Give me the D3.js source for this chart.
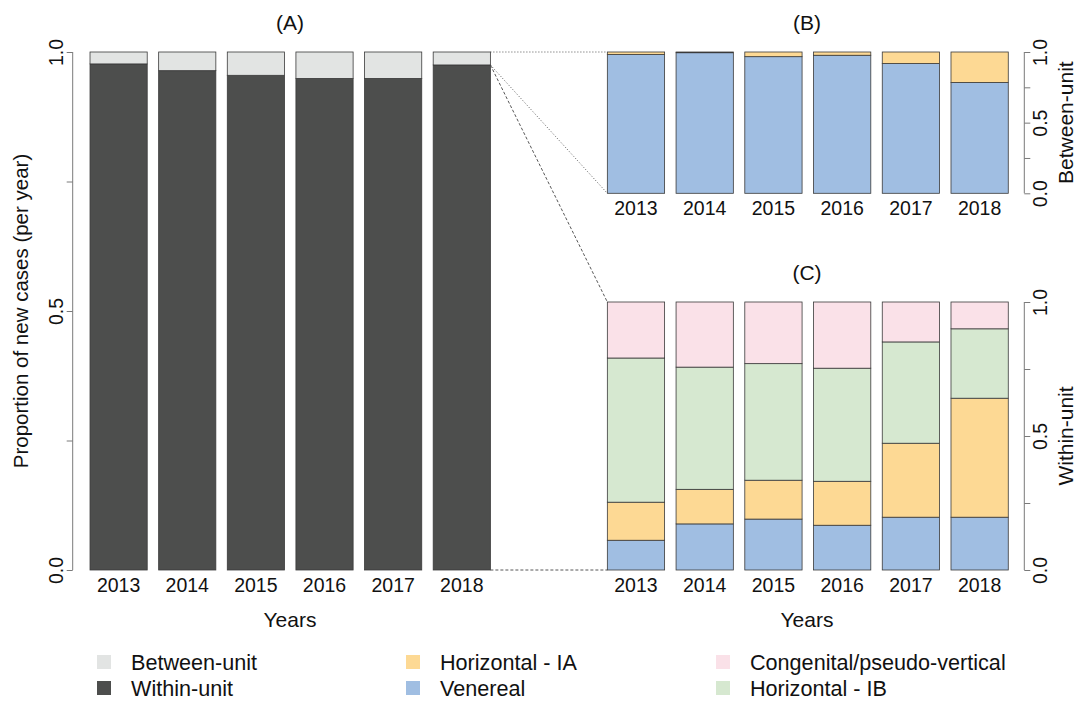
<!DOCTYPE html>
<html>
<head>
<meta charset="utf-8">
<script src="https://cdn.jsdelivr.net/npm/d3@7"></script>
<style>
  html, body { margin: 0; padding: 0; background: #fff; }
  svg { display: block; font-family: "Liberation Sans", Arial, sans-serif; }
</style>
</head>
<body>
<svg id="chart" width="1079" height="702"></svg>
<script>
// ---------------- DATA ----------------
const years = ["2013", "2014", "2015", "2016", "2017", "2018"];

// Panel A: proportion of new cases per year
const withinUnit  = [0.977, 0.964, 0.955, 0.949, 0.949, 0.975];
const betweenUnit = [0.023, 0.036, 0.045, 0.051, 0.051, 0.025];

// Panel B: composition of between-unit cases
const betweenVenereal     = [0.982, 0.995, 0.967, 0.977, 0.918, 0.784];
const betweenHorizontalIA = [0.018, 0.005, 0.033, 0.023, 0.082, 0.216];

// Panel C: composition of within-unit cases
const withinVenereal     = [0.111, 0.172, 0.190, 0.167, 0.197, 0.197];
const withinHorizontalIA = [0.142, 0.129, 0.145, 0.164, 0.276, 0.444];
const withinHorizontalIB = [0.538, 0.456, 0.435, 0.422, 0.378, 0.259];
const withinCongenital   = [0.209, 0.243, 0.230, 0.247, 0.149, 0.100];

const yTicks = [0, 0.25, 0.5, 0.75, 1];
const yTickLabels = { 0: "0.0", 0.5: "0.5", 1: "1.0" };

const colors = {
  "Between-unit": "#e2e4e3",
  "Within-unit": "#4d4e4d",
  "Horizontal - IA": "#fdd994",
  "Venereal": "#a0bee2",
  "Congenital/pseudo-vertical": "#fae1e8",
  "Horizontal - IB": "#d6e8d0"
};
const legendColumns = [
  ["Between-unit", "Within-unit"],
  ["Horizontal - IA", "Venereal"],
  ["Congenital/pseudo-vertical", "Horizontal - IB"]
];

// ---------------- LAYOUT ----------------
const svg = d3.select("#chart");
const textColor = "#111";
const axisColor = "#7a7a7a";
const segStroke = "#3a3a3a";

function band(range) {
  return d3.scaleBand().domain(years).range(range)
    .paddingInner(1 / 6).paddingOuter(0.2333);
}
const xA = band([74, 506.4]);
const xB = band([591.3, 1024.3]);
const xC = xB;
const yA = d3.scaleLinear().domain([0, 1]).range([570, 52]);
const yB = d3.scaleLinear().domain([0, 1]).range([193.3, 52]);
const yC = d3.scaleLinear().domain([0, 1]).range([570, 302]);

function stackRows(seriesNames, arrays) {
  return years.map((y, i) => {
    const row = { year: y };
    seriesNames.forEach((s, j) => row[s] = arrays[j][i]);
    return row;
  });
}

function drawStack(g, x, y, keys, arrays) {
  const rows = stackRows(keys, arrays);
  const stacked = d3.stack().keys(keys)(rows);
  stacked.forEach(layer => {
    g.append("g").selectAll("rect").data(layer).join("rect")
      .attr("x", d => x(d.data.year))
      .attr("width", x.bandwidth())
      .attr("y", d => y(d[1]))
      .attr("height", d => Math.max(0, y(d[0]) - y(d[1])))
      .attr("fill", colors[layer.key])
      .attr("stroke", segStroke)
      .attr("stroke-width", 0.8);
  });
}

function yAxis(g, y, side, xPos) {
  const ax = (side === "left" ? d3.axisLeft(y) : d3.axisRight(y))
    .tickValues(yTicks).tickSize(6).tickFormat(d => yTickLabels[d] || "");
  const a = g.append("g").attr("transform", `translate(${xPos},0)`).call(ax);
  a.select(".domain").attr("stroke", axisColor).attr("d", `M0,${y(0)}V${y(1)}`);
  a.selectAll(".tick line").attr("stroke", axisColor);
  a.selectAll(".tick text")
    .attr("fill", textColor)
    .style("font-size", "19.5px")
    .attr("dy", null)
    .attr("x", null)
    .attr("text-anchor", "middle")
    .attr("transform", side === "left" ? "translate(-10,0) rotate(-90)" : "translate(23,0) rotate(-90)")
    .attr("y", 0);
  return a;
}

function xLabels(g, x, y0) {
  g.append("g").selectAll("text").data(years).join("text")
    .attr("x", d => x(d) + x.bandwidth() / 2)
    .attr("y", y0 + 22)
    .attr("text-anchor", "middle")
    .attr("fill", textColor)
    .style("font-size", "19.5px")
    .text(d => d);
}

// ---------------- PANEL A ----------------
const gA = svg.append("g");
drawStack(gA, xA, yA, ["Within-unit", "Between-unit"], [withinUnit, betweenUnit]);
yAxis(gA, yA, "left", 72.7);
xLabels(gA, xA, 570);
gA.append("text").attr("x", 290).attr("y", 30).attr("text-anchor", "middle")
  .attr("fill", textColor).style("font-size", "21px").text("(A)");
gA.append("text").attr("x", 290).attr("y", 627).attr("text-anchor", "middle")
  .attr("fill", textColor).style("font-size", "21px").text("Years");
gA.append("text").attr("transform", `translate(28,${(yA(0) + yA(1)) / 2}) rotate(-90)`)
  .attr("text-anchor", "middle").attr("fill", textColor).style("font-size", "20.5px")
  .text("Proportion of new cases (per year)");

// ---------------- PANEL B ----------------
const gB = svg.append("g");
drawStack(gB, xB, yB, ["Venereal", "Horizontal - IA"], [betweenVenereal, betweenHorizontalIA]);
yAxis(gB, yB, "right", 1024.3);
xLabels(gB, xB, 193.3);
gB.append("text").attr("x", 807).attr("y", 30).attr("text-anchor", "middle")
  .attr("fill", textColor).style("font-size", "21px").text("(B)");
gB.append("text").attr("transform", `translate(1073,${(yB(0) + yB(1)) / 2}) rotate(-90)`)
  .attr("text-anchor", "middle").attr("fill", textColor).style("font-size", "21px")
  .text("Between-unit");

// ---------------- PANEL C ----------------
const gC = svg.append("g");
drawStack(gC, xC, yC, ["Venereal", "Horizontal - IA", "Horizontal - IB", "Congenital/pseudo-vertical"],
  [withinVenereal, withinHorizontalIA, withinHorizontalIB, withinCongenital]);
yAxis(gC, yC, "right", 1024.3);
xLabels(gC, xC, 570);
gC.append("text").attr("x", 807).attr("y", 280).attr("text-anchor", "middle")
  .attr("fill", textColor).style("font-size", "21px").text("(C)");
gC.append("text").attr("x", 807).attr("y", 627).attr("text-anchor", "middle")
  .attr("fill", textColor).style("font-size", "21px").text("Years");
gC.append("text").attr("transform", `translate(1073,${(yC(0) + yC(1)) / 2}) rotate(-90)`)
  .attr("text-anchor", "middle").attr("fill", textColor).style("font-size", "21px")
  .text("Within-unit");

// ---------------- CONNECTORS ----------------
const last = years[years.length - 1];
const ax1 = xA(last) + xA.bandwidth();
const bx0 = xB(years[0]);
const gL = svg.append("g").attr("fill", "none").attr("stroke", "#444").attr("stroke-width", 0.9);
gL.append("line").attr("x1", ax1).attr("y1", yA(1)).attr("x2", bx0).attr("y2", yB(1))
  .attr("stroke-dasharray", "1,2");
gL.append("line").attr("x1", ax1).attr("y1", yA(withinUnit[5])).attr("x2", bx0).attr("y2", yB(0))
  .attr("stroke-dasharray", "1,2");
gL.append("line").attr("x1", ax1).attr("y1", yA(withinUnit[5])).attr("x2", bx0).attr("y2", yC(1))
  .attr("stroke-dasharray", "3,2");
gL.append("line").attr("x1", ax1).attr("y1", yA(0)).attr("x2", bx0).attr("y2", yC(0))
  .attr("stroke-dasharray", "3,2");

// ---------------- LEGEND ----------------
const legendX = [97, 406, 716];
const legendY = [662, 688];
const gLeg = svg.append("g");
legendColumns.forEach((col, ci) => {
  col.forEach((name, ri) => {
    gLeg.append("rect").attr("x", legendX[ci]).attr("y", legendY[ri] - 7)
      .attr("width", 14).attr("height", 14).attr("fill", colors[name]);
    gLeg.append("text").attr("x", legendX[ci] + 34).attr("y", legendY[ri] + 7.5)
      .attr("fill", textColor).style("font-size", "21.6px").text(name);
  });
});
</script>
</body>
</html>
